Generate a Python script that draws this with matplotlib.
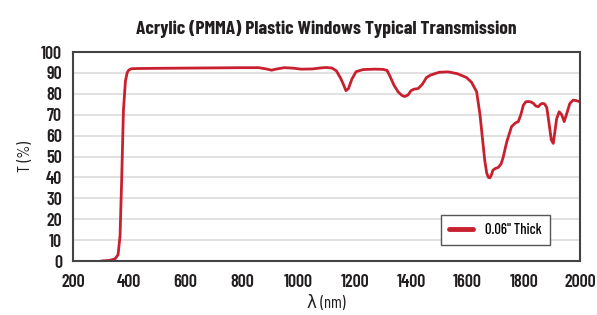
import matplotlib.pyplot as plt
import matplotlib as mpl

mpl.rcParams['font.family'] = ['Barlow Condensed', 'DejaVu Sans']
mpl.rcParams['font.weight'] = 600

# wavelength (nm) and transmission (%)
wl = [300, 330, 349, 360, 367, 373, 379, 386, 392, 396, 402, 408, 430, 500, 600, 700,
      800, 860, 890, 905, 920, 950, 980, 1010, 1050, 1080, 1100, 1120, 1135, 1150,
      1160, 1169, 1178, 1190, 1205, 1230, 1270, 1300, 1315, 1325, 1340, 1355, 1368,
      1378, 1390, 1400, 1410, 1425, 1440, 1455, 1470, 1500, 1532, 1565, 1597, 1615,
      1633, 1645, 1655, 1662, 1669, 1675, 1680, 1685, 1691, 1700, 1710, 1720, 1727,
      1740, 1757, 1770, 1781, 1790, 1799, 1808, 1817, 1826, 1834, 1843, 1852, 1860,
      1866, 1874, 1882, 1890, 1898, 1905, 1911, 1917, 1926, 1935, 1944, 1954, 1964,
      1976, 1988, 2000]
T = [0, 0.3, 1, 3, 12, 40, 72, 86, 90, 91, 91.7, 92, 92.1, 92.2, 92.3, 92.4,
     92.5, 92.5, 91.8, 91.3, 91.8, 92.5, 92.3, 91.8, 91.9, 92.4, 92.6, 92.3, 91, 87.5,
     84.5, 81.5, 82.5, 87, 90.6, 91.6, 91.8, 91.7, 91.2, 88.5, 84, 80.8, 79.2,
     78.7, 79.5, 81.5, 82.2, 82.5, 84.5, 87.8, 89, 90.3, 90.5, 89.6, 87.8, 85.5,
     81, 70, 57, 48, 42, 40, 39.8, 41, 43.5, 44.3, 44.8, 46.5, 49.5,
     57, 64.3, 66, 66.7, 70, 74.6, 76.2, 76.3, 76.1, 75.5, 74.2, 73.8, 75,
     75.4, 75.2, 73.5, 66, 58, 56.3, 62, 68, 71.4, 70, 66.7, 71, 75.4,
     77, 76.7, 76.2]

text_col = '#231f20'

fig = plt.figure(figsize=(5.97, 3.15), dpi=100)
ax = fig.add_axes([0.1223, 0.1714, 0.8492, 0.6635])

ax.plot(wl, T, color='#C8202F', lw=2.0, label='0.06" Thick', solid_capstyle='round')

ax.set_xlim(200, 2000)
ax.set_ylim(0, 100)
ax.set_xticks(range(200, 2001, 200))
ax.set_yticks(range(0, 101, 10))
ax.grid(True, axis='y', color='#dcdcdc', lw=1.2)
ax.set_axisbelow(True)
ax.tick_params(length=0, labelsize=13, colors=text_col)
ax.tick_params(axis='y', pad=8)
ax.tick_params(axis='x', pad=9)
for s in ax.spines.values():
    s.set_color('#444444')
    s.set_linewidth(1.5)

ax.set_xlabel('λ (nm)', fontsize=12, color=text_col, labelpad=3)
ax.set_ylabel('T (%)', fontsize=12, color=text_col, labelpad=6)
ax.set_title('Acrylic (PMMA) Plastic Windows Typical Transmission',
             fontsize=14, fontweight='bold', color=text_col, pad=13)

leg = ax.legend(loc='lower right', bbox_to_anchor=(0.955, 0.04), fontsize=10.5,
                frameon=True, fancybox=False, handlelength=1.7, handletextpad=0.8,
                borderpad=0.55, edgecolor='#555555', framealpha=1)
leg.get_frame().set_linewidth(1.0)
for line in leg.get_lines():
    line.set_linewidth(3.5)
for t in leg.get_texts():
    t.set_fontweight(500)

fig.savefig('out.png', dpi=100)
